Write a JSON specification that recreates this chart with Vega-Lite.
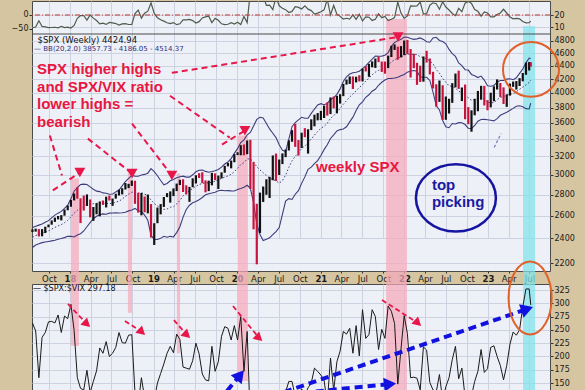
{
"$schema": "https://vega.github.io/schema/vega-lite/v6.json",
"background": "#d5c5a1",
"padding": {"left": 10, "top": 0, "right": 11, "bottom": 0},
"bounds": "flush",
"spacing": 13,
"config": {
  "view": {"fill": "#eef0f7", "stroke": "#4a4a4a", "strokeWidth": 1},
  "axis": {"labelFont": "DejaVu Sans", "labelFontSize": 8, "labelColor": "#1a1a1a", "gridColor": "#cdd2e1", "gridOpacity": 1, "tickColor": "#333333", "domain": false, "title": null, "labelFlush": false, "labelOverlap": false}
},
"datasets": {
"spx": [
{"d":"2017-07-21","o":2460,"h":2478,"l":2455,"c":2472,"v":9.4,"r":263,"bu":2495,"bm":2410,"bl":2325},
{"d":"2017-08-04","o":2472,"h":2484,"l":2458,"c":2476,"v":10.0,"r":248,"bu":2505,"bm":2425,"bl":2345},
{"d":"2017-08-18","o":2476,"h":2480,"l":2417,"c":2426,"v":15.2,"r":160,"bu":2515,"bm":2435,"bl":2355},
{"d":"2017-09-01","o":2426,"h":2480,"l":2418,"c":2477,"v":10.5,"r":236,"bu":2525,"bm":2445,"bl":2365},
{"d":"2017-09-15","o":2477,"h":2501,"l":2446,"c":2500,"v":10.2,"r":245,"bu":2540,"bm":2455,"bl":2370},
{"d":"2017-09-29","o":2500,"h":2520,"l":2496,"c":2519,"v":9.5,"r":265,"bu":2555,"bm":2465,"bl":2375},
{"d":"2017-10-13","o":2519,"h":2557,"l":2519,"c":2553,"v":9.6,"r":266,"bu":2580,"bm":2480,"bl":2380},
{"d":"2017-10-27","o":2553,"h":2582,"l":2544,"c":2581,"v":9.8,"r":263,"bu":2605,"bm":2495,"bl":2385},
{"d":"2017-11-10","o":2581,"h":2597,"l":2566,"c":2582,"v":9.3,"r":278,"bu":2623,"bm":2508,"bl":2393},
{"d":"2017-11-24","o":2582,"h":2605,"l":2557,"c":2602,"v":10.6,"r":245,"bu":2639,"bm":2519,"bl":2399},
{"d":"2017-12-08","o":2602,"h":2657,"l":2600,"c":2652,"v":9.6,"r":276,"bu":2667,"bm":2537,"bl":2407},
{"d":"2017-12-22","o":2652,"h":2694,"l":2650,"c":2683,"v":9.9,"r":271,"bu":2698,"bm":2558,"bl":2418},
{"d":"2018-01-05","o":2683,"h":2748,"l":2683,"c":2743,"v":9.2,"r":298,"bu":2759,"bm":2589,"bl":2419},
{"d":"2018-01-19","o":2743,"h":2810,"l":2743,"c":2810,"v":11.3,"r":249,"bu":2833,"bm":2623,"bl":2413},
{"d":"2018-02-02","o":2810,"h":2873,"l":2760,"c":2762,"v":17.3,"r":160,"bu":2869,"bm":2649,"bl":2429},
{"d":"2018-02-16","o":2762,"h":2763,"l":2533,"c":2732,"v":19.5,"r":140,"bu":2900,"bm":2670,"bl":2440},
{"d":"2018-03-02","o":2732,"h":2790,"l":2647,"c":2691,"v":19.6,"r":137,"bu":2904,"bm":2684,"bl":2464},
{"d":"2018-03-16","o":2691,"h":2801,"l":2690,"c":2752,"v":15.8,"r":174,"bu":2901,"bm":2701,"bl":2501},
{"d":"2018-03-30","o":2752,"h":2752,"l":2585,"c":2641,"v":20.0,"r":132,"bu":2877,"bm":2707,"bl":2537},
{"d":"2018-04-13","o":2641,"h":2680,"l":2553,"c":2656,"v":17.4,"r":153,"bu":2852,"bm":2712,"bl":2572},
{"d":"2018-04-27","o":2656,"h":2717,"l":2613,"c":2670,"v":15.4,"r":173,"bu":2834,"bm":2714,"bl":2594},
{"d":"2018-05-11","o":2670,"h":2733,"l":2594,"c":2728,"v":12.6,"r":216,"bu":2829,"bm":2719,"bl":2609},
{"d":"2018-05-25","o":2728,"h":2742,"l":2700,"c":2721,"v":13.2,"r":206,"bu":2816,"bm":2716,"bl":2616},
{"d":"2018-06-08","o":2721,"h":2779,"l":2676,"c":2779,"v":12.2,"r":228,"bu":2813,"bm":2713,"bl":2613},
{"d":"2018-06-22","o":2779,"h":2790,"l":2742,"c":2755,"v":13.8,"r":200,"bu":2803,"bm":2713,"bl":2623},
{"d":"2018-07-06","o":2755,"h":2761,"l":2691,"c":2760,"v":13.4,"r":206,"bu":2805,"bm":2715,"bl":2625},
{"d":"2018-07-20","o":2760,"h":2808,"l":2760,"c":2802,"v":12.9,"r":217,"bu":2826,"bm":2726,"bl":2626},
{"d":"2018-08-03","o":2802,"h":2848,"l":2791,"c":2840,"v":11.6,"r":245,"bu":2845,"bm":2735,"bl":2625},
{"d":"2018-08-17","o":2840,"h":2863,"l":2802,"c":2850,"v":12.6,"r":226,"bu":2886,"bm":2756,"bl":2626},
{"d":"2018-08-31","o":2850,"h":2916,"l":2850,"c":2902,"v":12.9,"r":225,"bu":2931,"bm":2781,"bl":2631},
{"d":"2018-09-14","o":2902,"h":2907,"l":2864,"c":2905,"v":12.1,"r":240,"bu":2964,"bm":2804,"bl":2644},
{"d":"2018-09-28","o":2905,"h":2941,"l":2886,"c":2914,"v":12.1,"r":241,"bu":2993,"bm":2823,"bl":2653},
{"d":"2018-10-12","o":2914,"h":2939,"l":2710,"c":2767,"v":21.3,"r":130,"bu":2987,"bm":2827,"bl":2667},
{"d":"2018-10-26","o":2767,"h":2816,"l":2628,"c":2658,"v":24.2,"r":110,"bu":2985,"bm":2815,"bl":2645},
{"d":"2018-11-09","o":2658,"h":2815,"l":2603,"c":2781,"v":17.4,"r":160,"bu":2998,"bm":2818,"bl":2638},
{"d":"2018-11-23","o":2781,"h":2781,"l":2631,"c":2633,"v":21.5,"r":122,"bu":3005,"bm":2805,"bl":2605},
{"d":"2018-12-07","o":2633,"h":2800,"l":2621,"c":2633,"v":23.2,"r":113,"bu":3018,"bm":2788,"bl":2558},
{"d":"2018-12-21","o":2633,"h":2708,"l":2408,"c":2417,"v":30.1,"r":80,"bu":3066,"bm":2746,"bl":2426},
{"d":"2019-01-04","o":2417,"h":2532,"l":2346,"c":2532,"v":21.4,"r":118,"bu":3034,"bm":2714,"bl":2394},
{"d":"2019-01-18","o":2532,"h":2675,"l":2532,"c":2671,"v":17.8,"r":150,"bu":2991,"bm":2691,"bl":2391},
{"d":"2019-02-01","o":2671,"h":2708,"l":2612,"c":2707,"v":16.1,"r":168,"bu":2941,"bm":2671,"bl":2401},
{"d":"2019-02-15","o":2707,"h":2776,"l":2681,"c":2776,"v":14.9,"r":186,"bu":2898,"bm":2658,"bl":2418},
{"d":"2019-03-01","o":2776,"h":2814,"l":2775,"c":2804,"v":13.6,"r":206,"bu":2911,"bm":2661,"bl":2411},
{"d":"2019-03-15","o":2804,"h":2831,"l":2722,"c":2822,"v":12.9,"r":219,"bu":2938,"bm":2678,"bl":2418},
{"d":"2019-03-29","o":2822,"h":2861,"l":2785,"c":2834,"v":13.7,"r":207,"bu":2953,"bm":2683,"bl":2413},
{"d":"2019-04-12","o":2834,"h":2910,"l":2834,"c":2907,"v":12.0,"r":242,"bu":2970,"bm":2710,"bl":2450},
{"d":"2019-04-26","o":2907,"h":2949,"l":2895,"c":2940,"v":12.7,"r":232,"bu":2981,"bm":2741,"bl":2501},
{"d":"2019-05-10","o":2940,"h":2954,"l":2825,"c":2881,"v":16.0,"r":180,"bu":2987,"bm":2787,"bl":2587},
{"d":"2019-05-24","o":2881,"h":2892,"l":2801,"c":2826,"v":15.9,"r":178,"bu":2977,"bm":2817,"bl":2657},
{"d":"2019-06-07","o":2826,"h":2876,"l":2729,"c":2873,"v":16.3,"r":176,"bu":2977,"bm":2837,"bl":2697},
{"d":"2019-06-21","o":2873,"h":2964,"l":2873,"c":2950,"v":15.4,"r":192,"bu":3001,"bm":2861,"bl":2721},
{"d":"2019-07-05","o":2950,"h":2996,"l":2911,"c":2990,"v":13.3,"r":225,"bu":3033,"bm":2883,"bl":2733},
{"d":"2019-07-19","o":2990,"h":3018,"l":2967,"c":2977,"v":14.5,"r":205,"bu":3050,"bm":2900,"bl":2750},
{"d":"2019-08-02","o":2977,"h":3028,"l":2914,"c":2932,"v":17.6,"r":167,"bu":3051,"bm":2911,"bl":2771},
{"d":"2019-08-16","o":2932,"h":2943,"l":2822,"c":2889,"v":18.5,"r":156,"bu":3037,"bm":2917,"bl":2797},
{"d":"2019-08-30","o":2889,"h":2940,"l":2834,"c":2926,"v":19.0,"r":154,"bu":3028,"bm":2918,"bl":2808},
{"d":"2019-09-13","o":2926,"h":3021,"l":2892,"c":3007,"v":13.7,"r":219,"bu":3035,"bm":2925,"bl":2815},
{"d":"2019-09-27","o":3007,"h":3016,"l":2945,"c":2962,"v":17.2,"r":172,"bu":3043,"bm":2933,"bl":2823},
{"d":"2019-10-11","o":2962,"h":2993,"l":2855,"c":2970,"v":15.6,"r":190,"bu":3058,"bm":2948,"bl":2838},
{"d":"2019-10-25","o":2970,"h":3027,"l":2963,"c":3023,"v":12.7,"r":238,"bu":3083,"bm":2963,"bl":2843},
{"d":"2019-11-08","o":3023,"h":3097,"l":3023,"c":3093,"v":12.1,"r":256,"bu":3117,"bm":2977,"bl":2837},
{"d":"2019-11-22","o":3093,"h":3128,"l":3091,"c":3110,"v":12.3,"r":253,"bu":3139,"bm":2989,"bl":2839},
{"d":"2019-12-06","o":3110,"h":3155,"l":3070,"c":3146,"v":13.6,"r":231,"bu":3176,"bm":3006,"bl":2836},
{"d":"2019-12-20","o":3146,"h":3226,"l":3136,"c":3221,"v":12.5,"r":258,"bu":3235,"bm":3035,"bl":2835},
{"d":"2020-01-03","o":3221,"h":3248,"l":3216,"c":3235,"v":14.0,"r":231,"bu":3289,"bm":3069,"bl":2849},
{"d":"2020-01-17","o":3235,"h":3330,"l":3214,"c":3330,"v":12.1,"r":275,"bu":3360,"bm":3110,"bl":2860},
{"d":"2020-01-31","o":3330,"h":3338,"l":3214,"c":3226,"v":18.8,"r":172,"bu":3392,"bm":3132,"bl":2872},
{"d":"2020-02-14","o":3226,"h":3385,"l":3226,"c":3380,"v":13.7,"r":247,"bu":3453,"bm":3173,"bl":2893},
{"d":"2020-02-28","o":3380,"h":3393,"l":2855,"c":2954,"v":40.1,"r":74,"bu":3482,"bm":3172,"bl":2862},
{"d":"2020-03-13","o":2954,"h":3137,"l":2478,"c":2711,"v":57.8,"r":47,"bu":3561,"bm":3141,"bl":2721},
{"d":"2020-03-27","o":2711,"h":2711,"l":2192,"c":2541,"v":65.5,"r":39,"bu":3645,"bm":3085,"bl":2525},
{"d":"2020-04-10","o":2541,"h":2819,"l":2447,"c":2790,"v":41.7,"r":67,"bu":3673,"bm":3053,"bl":2433},
{"d":"2020-04-24","o":2790,"h":2880,"l":2728,"c":2837,"v":35.9,"r":79,"bu":3663,"bm":3023,"bl":2383},
{"d":"2020-05-08","o":2837,"h":2954,"l":2798,"c":2930,"v":28.0,"r":105,"bu":3593,"bm":2993,"bl":2393},
{"d":"2020-05-22","o":2930,"h":2980,"l":2766,"c":2955,"v":28.2,"r":105,"bu":3525,"bm":2965,"bl":2405},
{"d":"2020-06-05","o":2955,"h":3212,"l":2944,"c":3194,"v":24.5,"r":130,"bu":3472,"bm":2952,"bl":2432},
{"d":"2020-06-19","o":3194,"h":3233,"l":2936,"c":3098,"v":35.1,"r":88,"bu":3419,"bm":2939,"bl":2459},
{"d":"2020-07-03","o":3098,"h":3166,"l":2999,"c":3130,"v":27.7,"r":113,"bu":3334,"bm":2914,"bl":2494},
{"d":"2020-07-17","o":3130,"h":3235,"l":3116,"c":3225,"v":25.7,"r":125,"bu":3271,"bm":2941,"bl":2611},
{"d":"2020-07-31","o":3225,"h":3280,"l":3193,"c":3271,"v":24.5,"r":133,"bu":3257,"bm":2997,"bl":2737},
{"d":"2020-08-14","o":3271,"h":3387,"l":3268,"c":3373,"v":22.1,"r":153,"bu":3400,"bm":3080,"bl":2760},
{"d":"2020-08-28","o":3373,"h":3510,"l":3370,"c":3508,"v":23.0,"r":153,"bu":3552,"bm":3152,"bl":2752},
{"d":"2020-09-11","o":3508,"h":3588,"l":3310,"c":3341,"v":26.9,"r":124,"bu":3603,"bm":3203,"bl":2803},
{"d":"2020-09-25","o":3341,"h":3390,"l":3210,"c":3298,"v":26.4,"r":125,"bu":3639,"bm":3239,"bl":2839},
{"d":"2020-10-09","o":3298,"h":3479,"l":3298,"c":3477,"v":25.0,"r":139,"bu":3672,"bm":3292,"bl":2912},
{"d":"2020-10-23","o":3477,"h":3535,"l":3424,"c":3465,"v":27.6,"r":126,"bu":3659,"bm":3319,"bl":2979},
{"d":"2020-11-06","o":3465,"h":3521,"l":3233,"c":3510,"v":24.9,"r":141,"bu":3660,"bm":3360,"bl":3060},
{"d":"2020-11-20","o":3510,"h":3646,"l":3511,"c":3558,"v":23.7,"r":150,"bu":3723,"bm":3403,"bl":3083},
{"d":"2020-12-04","o":3558,"h":3706,"l":3558,"c":3699,"v":20.8,"r":178,"bu":3780,"bm":3450,"bl":3120},
{"d":"2020-12-18","o":3699,"h":3727,"l":3633,"c":3709,"v":21.6,"r":172,"bu":3834,"bm":3494,"bl":3154},
{"d":"2021-01-01","o":3709,"h":3756,"l":3636,"c":3756,"v":22.8,"r":165,"bu":3852,"bm":3532,"bl":3212},
{"d":"2021-01-15","o":3756,"h":3826,"l":3663,"c":3768,"v":24.3,"r":155,"bu":3838,"bm":3558,"bl":3278},
{"d":"2021-01-29","o":3768,"h":3870,"l":3694,"c":3714,"v":33.1,"r":112,"bu":3855,"bm":3595,"bl":3335},
{"d":"2021-02-12","o":3714,"h":3937,"l":3714,"c":3934,"v":20.0,"r":197,"bu":3909,"bm":3659,"bl":3409},
{"d":"2021-02-26","o":3934,"h":3950,"l":3789,"c":3811,"v":28.0,"r":136,"bu":3932,"bm":3692,"bl":3452},
{"d":"2021-03-12","o":3811,"h":3960,"l":3723,"c":3943,"v":20.7,"r":190,"bu":3980,"bm":3740,"bl":3500},
{"d":"2021-03-26","o":3943,"h":3982,"l":3853,"c":3975,"v":18.9,"r":210,"bu":4057,"bm":3787,"bl":3517},
{"d":"2021-04-09","o":3975,"h":4129,"l":3955,"c":4129,"v":16.7,"r":247,"bu":4164,"bm":3844,"bl":3524},
{"d":"2021-04-23","o":4129,"h":4191,"l":4118,"c":4180,"v":17.3,"r":242,"bu":4232,"bm":3892,"bl":3552},
{"d":"2021-05-07","o":4180,"h":4238,"l":4128,"c":4232,"v":16.7,"r":253,"bu":4274,"bm":3944,"bl":3614},
{"d":"2021-05-21","o":4232,"h":4238,"l":4056,"c":4156,"v":20.2,"r":206,"bu":4294,"bm":3984,"bl":3674},
{"d":"2021-06-04","o":4156,"h":4234,"l":4150,"c":4230,"v":16.4,"r":258,"bu":4300,"bm":4030,"bl":3760},
{"d":"2021-06-18","o":4230,"h":4256,"l":4165,"c":4166,"v":20.7,"r":201,"bu":4316,"bm":4076,"bl":3836},
{"d":"2021-07-02","o":4166,"h":4356,"l":4165,"c":4352,"v":15.1,"r":288,"bu":4357,"bm":4117,"bl":3877},
{"d":"2021-07-16","o":4352,"h":4393,"l":4313,"c":4327,"v":18.5,"r":234,"bu":4399,"bm":4169,"bl":3939},
{"d":"2021-07-30","o":4327,"h":4430,"l":4233,"c":4395,"v":18.2,"r":241,"bu":4454,"bm":4214,"bl":3974},
{"d":"2021-08-13","o":4395,"h":4469,"l":4376,"c":4468,"v":15.5,"r":288,"bu":4504,"bm":4264,"bl":4024},
{"d":"2021-08-27","o":4468,"h":4513,"l":4367,"c":4509,"v":16.4,"r":275,"bu":4552,"bm":4302,"bl":4052},
{"d":"2021-09-10","o":4509,"h":4546,"l":4456,"c":4459,"v":21.0,"r":213,"bu":4549,"bm":4329,"bl":4109},
{"d":"2021-09-24","o":4459,"h":4466,"l":4306,"c":4455,"v":17.8,"r":251,"bu":4552,"bm":4352,"bl":4152},
{"d":"2021-10-08","o":4455,"h":4466,"l":4279,"c":4391,"v":18.8,"r":234,"bu":4565,"bm":4375,"bl":4185},
{"d":"2021-10-22","o":4391,"h":4559,"l":4364,"c":4545,"v":15.4,"r":295,"bu":4607,"bm":4407,"bl":4207},
{"d":"2021-11-05","o":4545,"h":4718,"l":4537,"c":4698,"v":16.5,"r":285,"bu":4710,"bm":4460,"bl":4210},
{"d":"2021-11-19","o":4698,"h":4743,"l":4651,"c":4698,"v":17.9,"r":262,"bu":4775,"bm":4495,"bl":4215},
{"d":"2021-12-03","o":4698,"h":4705,"l":4495,"c":4538,"v":30.7,"r":148,"bu":4806,"bm":4516,"bl":4226},
{"d":"2021-12-17","o":4538,"h":4714,"l":4531,"c":4620,"v":21.6,"r":214,"bu":4828,"bm":4538,"bl":4248},
{"d":"2021-12-31","o":4620,"h":4808,"l":4568,"c":4766,"v":17.2,"r":277,"bu":4868,"bm":4568,"bl":4268},
{"d":"2022-01-14","o":4766,"h":4818,"l":4582,"c":4663,"v":19.2,"r":243,"bu":4863,"bm":4583,"bl":4303},
{"d":"2022-01-28","o":4663,"h":4667,"l":4222,"c":4432,"v":27.7,"r":160,"bu":4841,"bm":4581,"bl":4321},
{"d":"2022-02-11","o":4432,"h":4590,"l":4363,"c":4419,"v":27.4,"r":161,"bu":4827,"bm":4577,"bl":4327},
{"d":"2022-02-25","o":4419,"h":4446,"l":4115,"c":4385,"v":27.6,"r":159,"bu":4836,"bm":4576,"bl":4316},
{"d":"2022-03-11","o":4385,"h":4402,"l":4157,"c":4204,"v":30.8,"r":137,"bu":4852,"bm":4542,"bl":4232},
{"d":"2022-03-25","o":4204,"h":4546,"l":4161,"c":4543,"v":20.8,"r":218,"bu":4827,"bm":4527,"bl":4227},
{"d":"2022-04-08","o":4543,"h":4637,"l":4450,"c":4488,"v":21.2,"r":212,"bu":4786,"bm":4506,"bl":4226},
{"d":"2022-04-22","o":4488,"h":4513,"l":4268,"c":4272,"v":28.2,"r":151,"bu":4779,"bm":4479,"bl":4179},
{"d":"2022-05-06","o":4272,"h":4308,"l":4063,"c":4123,"v":30.2,"r":137,"bu":4850,"bm":4430,"bl":4010},
{"d":"2022-05-20","o":4123,"h":4123,"l":3811,"c":3901,"v":29.4,"r":133,"bu":4863,"bm":4343,"bl":3823},
{"d":"2022-06-03","o":3901,"h":4178,"l":3876,"c":4109,"v":24.8,"r":166,"bu":4808,"bm":4288,"bl":3768},
{"d":"2022-06-17","o":4109,"h":4109,"l":3637,"c":3675,"v":31.1,"r":118,"bu":4792,"bm":4212,"bl":3632},
{"d":"2022-07-01","o":3675,"h":3950,"l":3640,"c":3825,"v":26.7,"r":143,"bu":4753,"bm":4153,"bl":3553},
{"d":"2022-07-15","o":3825,"h":3919,"l":3721,"c":3863,"v":24.2,"r":160,"bu":4660,"bm":4100,"bl":3540},
{"d":"2022-07-29","o":3863,"h":4140,"l":3863,"c":4130,"v":21.3,"r":194,"bu":4593,"bm":4093,"bl":3593},
{"d":"2022-08-12","o":4130,"h":4281,"l":4079,"c":4280,"v":19.5,"r":219,"bu":4547,"bm":4067,"bl":3587},
{"d":"2022-08-26","o":4280,"h":4325,"l":4057,"c":4058,"v":25.6,"r":158,"bu":4444,"bm":4024,"bl":3604},
{"d":"2022-09-09","o":4058,"h":4077,"l":3887,"c":4067,"v":22.8,"r":178,"bu":4403,"bm":4003,"bl":3603},
{"d":"2022-09-23","o":4067,"h":4119,"l":3647,"c":3693,"v":29.9,"r":124,"bu":4340,"bm":3960,"bl":3580},
{"d":"2022-10-07","o":3693,"h":3806,"l":3584,"c":3640,"v":31.4,"r":116,"bu":4334,"bm":3934,"bl":3534},
{"d":"2022-10-21","o":3640,"h":3763,"l":3491,"c":3753,"v":29.7,"r":126,"bu":4268,"bm":3898,"bl":3528},
{"d":"2022-11-04","o":3753,"h":3919,"l":3698,"c":3771,"v":24.6,"r":153,"bu":4248,"bm":3908,"bl":3568},
{"d":"2022-11-18","o":3771,"h":4028,"l":3751,"c":3965,"v":23.1,"r":172,"bu":4222,"bm":3922,"bl":3622},
{"d":"2022-12-02","o":3965,"h":4101,"l":3906,"c":4072,"v":19.1,"r":213,"bu":4243,"bm":3943,"bl":3643},
{"d":"2022-12-16","o":4072,"h":4100,"l":3828,"c":3852,"v":22.6,"r":170,"bu":4185,"bm":3915,"bl":3645},
{"d":"2022-12-30","o":3852,"h":3900,"l":3764,"c":3840,"v":21.7,"r":177,"bu":4101,"bm":3871,"bl":3641},
{"d":"2023-01-13","o":3840,"h":4003,"l":3802,"c":3999,"v":18.4,"r":217,"bu":4095,"bm":3865,"bl":3635},
{"d":"2023-01-27","o":3999,"h":4094,"l":3885,"c":4071,"v":18.5,"r":220,"bu":4106,"bm":3866,"bl":3626},
{"d":"2023-02-10","o":4071,"h":4195,"l":4048,"c":4090,"v":20.5,"r":200,"bu":4155,"bm":3905,"bl":3655},
{"d":"2023-02-24","o":4090,"h":4141,"l":3944,"c":3970,"v":21.7,"r":183,"bu":4178,"bm":3938,"bl":3698},
{"d":"2023-03-10","o":3970,"h":4079,"l":3847,"c":3862,"v":24.8,"r":156,"bu":4179,"bm":3949,"bl":3719},
{"d":"2023-03-24","o":3862,"h":3980,"l":3809,"c":3971,"v":21.7,"r":183,"bu":4199,"bm":3969,"bl":3739},
{"d":"2023-04-07","o":3971,"h":4133,"l":3962,"c":4105,"v":18.4,"r":223,"bu":4203,"bm":3983,"bl":3763},
{"d":"2023-04-21","o":4105,"h":4163,"l":4086,"c":4133,"v":16.8,"r":246,"bu":4189,"bm":3989,"bl":3789},
{"d":"2023-05-05","o":4133,"h":4170,"l":4048,"c":4136,"v":17.2,"r":240,"bu":4218,"bm":4018,"bl":3818},
{"d":"2023-05-19","o":4136,"h":4213,"l":4098,"c":4192,"v":16.8,"r":250,"bu":4283,"bm":4053,"bl":3823},
{"d":"2023-06-02","o":4192,"h":4290,"l":4166,"c":4282,"v":14.6,"r":293,"bu":4351,"bm":4081,"bl":3811},
{"d":"2023-06-16","o":4282,"h":4448,"l":4263,"c":4410,"v":13.5,"r":327,"bu":4445,"bm":4115,"bl":3785},
{"d":"2023-06-30","o":4410,"h":4458,"l":4328,"c":4450,"v":13.6,"r":327,"bu":4521,"bm":4151,"bl":3781},
{"d":"2023-07-07","o":4450,"h":4456,"l":4385,"c":4425,"v":14.9,"r":297,"bu":4514,"bm":4186,"bl":3858}
],
"bands": [
{"d1":"2018-01-05","d2":"2018-02-09","mt":2963,"mb":2046,"bt":336.3,"bb":220,"k":"p"},
{"d1":"2018-09-11","d2":"2018-09-29","mt":3025,"mb":2046,"bt":336.3,"bb":282,"k":"p"},
{"d1":"2019-04-13","d2":"2019-04-27","mt":3015,"mb":2046,"bt":336.3,"bb":206,"k":"p"},
{"d1":"2020-01-04","d2":"2020-02-17","mt":3444,"mb":2046,"bt":336.3,"bb":154,"k":"p"},
{"d1":"2021-10-13","d2":"2022-01-12","mt":4919,"mb":2046,"bt":336.3,"bb":135,"tt":16.7,"tb":4.2,"k":"p"},
{"d1":"2023-06-03","d2":"2023-07-26","mt":4919,"mb":2046,"bt":336.3,"bb":135,"tt":10.8,"tb":4.2,"k":"c"}
],
"mainArrows": [
{"d1":"2017-10-05","v1":3444,"d2":"2017-11-27","v2":2994},
{"d1":"2017-10-18","v1":2841,"d2":"2018-02-13","v2":3025},
{"d1":"2018-03-20","v1":3407,"d2":"2018-09-29","v2":3015},
{"d1":"2018-09-29","v1":3591,"d2":"2019-03-22","v2":2994},
{"d1":"2019-03-14","v1":3960,"d2":"2019-11-30","v2":3419},
{"d1":"2019-10-27","v1":3337,"d2":"2020-02-04","v2":3504},
{"d1":"2019-03-22","v1":4292,"d2":"2021-12-04","v2":4868}
],
"mainHeads": [
{"d":"2018-02-13","v":3025},
{"d":"2018-09-29","v":3015},
{"d":"2019-03-22","v":2994},
{"d":"2020-02-04","v":3504},
{"d":"2021-12-04","v":4868}
],
"redArrows": [
{"d1":"2017-12-23","v1":298.7,"d2":"2018-03-16","v2":261},
{"d1":"2018-08-29","v1":266.7,"d2":"2018-11-11","v2":246},
{"d1":"2019-03-31","v1":268.5,"d2":"2019-05-27","v2":240.3},
{"d1":"2019-12-14","v1":294.9,"d2":"2020-04-06","v2":234.7},
{"d1":"2021-09-25","v1":306.2,"d2":"2022-03-01","v2":262.9}
],
"blueArrows": [
{"id":"b1","d1":"2019-11-18","v1":135,"d2":"2020-01-14","v2":165},
{"id":"b2","d1":"2020-07-24","v1":133,"d2":"2023-06-21","v2":289.2},
{"id":"b3","d1":"2020-08-19","v1":129.3,"d2":"2021-10-30","v2":148.1}
],
"levels": [
{"z":0,"top":4919}
]
},
"vconcat": [
{
"width": 518, "height": 270,
"layer": [
{"data": {"name": "bands"},
 "mark": {"type": "rect", "opacity": 0.72},
 "encoding": {
  "x": {"field": "d1", "type": "temporal", "scale": {"domain": ["2017-07-19", "2023-09-29"]},
        "axis": {"orient": "bottom", "grid": true, "domain": false, "tickSize": 2, "labelPadding": 1, "labelFontSize": 8.5, "tickCount": {"interval": "month", "step": 3},
                 "labelExpr": "month(datum.value) == 0 ? timeFormat(datum.value, '%y') : timeFormat(datum.value, '%b')",
                 "labelFontWeight": {"condition": {"test": "month(datum.value) == 0", "value": "bold"}, "value": "normal"}}},
  "x2": {"field": "d2"},
  "y": {"field": "mt", "type": "quantitative", "scale": {"type": "log", "domain": [2141, 4919], "range": [270, 33], "nice": false}, "axis": {"orient": "right", "values": [2200,2400,2600,2800,3000,3200,3400,3600,3800,4000,4200,4400,4600,4800], "format": "d", "grid": true, "tickSize": 3, "labelPadding": 1}},
  "y2": {"field": "mb"},
  "color": {"field": "k", "type": "nominal", "scale": {"domain": ["p", "c"], "range": ["#f5a9bb", "#7fe3ec"]}, "legend": null}
 }},
{"data": {"name": "bands"}, "transform": [{"filter": "isValid(datum.tt)"}],
 "mark": {"type": "rect", "opacity": 0.72},
 "encoding": {
  "x": {"field": "d1", "type": "temporal", "scale": {"domain": ["2017-07-19", "2023-09-29"]}, "axis": null},
  "x2": {"field": "d2"},
  "y": {"field": "tt", "type": "quantitative", "scale": {"domain": [4.2, 31.7], "range": [33, 0], "nice": false, "zero": false}, "axis": {"orient": "right", "values": [10, 20], "grid": true, "tickSize": 3, "labelPadding": 1}},
  "y2": {"field": "tb"},
  "color": {"field": "k", "type": "nominal", "scale": {"domain": ["p", "c"], "range": ["#f5a9bb", "#7fe3ec"]}, "legend": null}
 }},
{"data": {"name": "spx"},
 "mark": {"type": "line", "color": "#4e5c4e", "strokeWidth": 1.2, "clip": true},
 "encoding": {
  "x": {"field": "d", "type": "temporal", "scale": {"domain": ["2017-07-19", "2023-09-29"]}, "axis": null},
  "y": {"field": "v", "type": "quantitative", "scale": {"domain": [4.2, 31.7], "range": [33, 0], "nice": false, "zero": false}, "axis": null}
 }},
{"data": {"name": "levels"},
 "mark": {"type": "rule", "color": "#c0392b", "strokeDash": [5, 2, 1, 2], "strokeWidth": 1},
 "encoding": {
  "y": {"field": "z", "type": "quantitative", "scale": {"domain": [-68, 50], "range": [33, 0], "nice": false, "zero": false}, "axis": {"orient": "left", "values": [-50, 0], "grid": false, "tickSize": 3, "labelPadding": 1}}
 }},
{"data": {"name": "levels"},
 "mark": {"type": "rule", "color": "#4a4a4a", "strokeWidth": 1.2},
 "encoding": {
  "y": {"field": "top", "type": "quantitative", "scale": {"type": "log", "domain": [2141, 4919], "range": [270, 33], "nice": false}, "axis": null}
 }},
{"data": {"name": "spx"},
 "mark": {"type": "line", "color": "#3d3d7d", "strokeWidth": 1.1},
 "encoding": {
  "x": {"field": "d", "type": "temporal", "scale": {"domain": ["2017-07-19", "2023-09-29"]}, "axis": null},
  "y": {"field": "bu", "type": "quantitative", "scale": {"type": "log", "domain": [2141, 4919], "range": [270, 33], "nice": false}, "axis": null}
 }},
{"data": {"name": "spx"},
 "mark": {"type": "line", "color": "#3d3d7d", "strokeWidth": 1.1},
 "encoding": {
  "x": {"field": "d", "type": "temporal", "scale": {"domain": ["2017-07-19", "2023-09-29"]}, "axis": null},
  "y": {"field": "bl", "type": "quantitative", "scale": {"type": "log", "domain": [2141, 4919], "range": [270, 33], "nice": false}, "axis": null}
 }},
{"data": {"name": "spx"},
 "mark": {"type": "line", "color": "#3d3d7d", "strokeWidth": 1, "strokeDash": [1.5, 2]},
 "encoding": {
  "x": {"field": "d", "type": "temporal", "scale": {"domain": ["2017-07-19", "2023-09-29"]}, "axis": null},
  "y": {"field": "bm", "type": "quantitative", "scale": {"type": "log", "domain": [2141, 4919], "range": [270, 33], "nice": false}, "axis": null}
 }},
{"data": {"name": "spx"},
 "mark": {"type": "rule", "strokeWidth": 2.2},
 "encoding": {
  "x": {"field": "d", "type": "temporal", "scale": {"domain": ["2017-07-19", "2023-09-29"]}, "axis": null},
  "y": {"field": "l", "type": "quantitative", "scale": {"type": "log", "domain": [2141, 4919], "range": [270, 33], "nice": false}, "axis": null},
  "y2": {"field": "h"},
  "color": {"condition": {"test": "datum.c >= datum.o", "value": "#111111"}, "value": "#c8143c"}
 }},
{"data": {"values": [{"d1":"2023-01-28","v1":3302,"d2":"2023-02-27","v2":3468}]},
 "mark": {"type": "rule", "color": "#7a7ac8", "strokeWidth": 1.2, "strokeDash": [3, 2]},
 "encoding": {
  "x": {"field": "d1", "type": "temporal", "scale": {"domain": ["2017-07-19", "2023-09-29"]}, "axis": null},
  "x2": {"field": "d2"},
  "y": {"field": "v1", "type": "quantitative", "scale": {"type": "log", "domain": [2141, 4919], "range": [270, 33], "nice": false}, "axis": null},
  "y2": {"field": "v2"}
 }},
{"data": {"name": "mainArrows"},
 "mark": {"type": "rule", "color": "#e8174a", "strokeWidth": 2, "strokeDash": [6, 4]},
 "encoding": {
  "x": {"field": "d1", "type": "temporal", "scale": {"domain": ["2017-07-19", "2023-09-29"]}, "axis": null},
  "x2": {"field": "d2"},
  "y": {"field": "v1", "type": "quantitative", "scale": {"type": "log", "domain": [2141, 4919], "range": [270, 33], "nice": false}, "axis": null},
  "y2": {"field": "v2"}
 }},
{"data": {"name": "mainHeads"},
 "mark": {"type": "point", "shape": "triangle-down", "filled": true, "size": 120, "color": "#e8174a", "opacity": 1},
 "encoding": {
  "x": {"field": "d", "type": "temporal", "scale": {"domain": ["2017-07-19", "2023-09-29"]}, "axis": null},
  "y": {"field": "v", "type": "quantitative", "scale": {"type": "log", "domain": [2141, 4919], "range": [270, 33], "nice": false}, "axis": null}
 }},
{"data": {"values": [
  {"d":"2017-08-10","v":4352,"t":"SPX higher highs"},
  {"d":"2017-08-10","v":4087,"t":"and SPX/VIX ratio"},
  {"d":"2017-08-10","v":3851,"t":"lower highs ="},
  {"d":"2017-08-10","v":3616,"t":"bearish"},
  {"d":"2020-12-11","v":3079,"t":"weekly SPX"}]},
 "mark": {"type": "text", "align": "left", "baseline": "middle", "font": "Liberation Sans", "fontWeight": "bold", "fontSize": 15, "color": "#e8173f"},
 "encoding": {
  "x": {"field": "d", "type": "temporal", "scale": {"domain": ["2017-07-19", "2023-09-29"]}, "axis": null},
  "y": {"field": "v", "type": "quantitative", "scale": {"type": "log", "domain": [2141, 4919], "range": [270, 33], "nice": false}, "axis": null},
  "text": {"field": "t"}
 }},
{"data": {"values": [
  {"d":"2022-05-01","v":2891,"t":"top"},
  {"d":"2022-05-01","v":2725,"t":"picking"}]},
 "mark": {"type": "text", "align": "left", "baseline": "middle", "font": "Liberation Sans", "fontWeight": "bold", "fontSize": 15, "color": "#1a1aa0"},
 "encoding": {
  "x": {"field": "d", "type": "temporal", "scale": {"domain": ["2017-07-19", "2023-09-29"]}, "axis": null},
  "y": {"field": "v", "type": "quantitative", "scale": {"type": "log", "domain": [2141, 4919], "range": [270, 33], "nice": false}, "axis": null},
  "text": {"field": "t"}
 }},
{"data": {"values": [{"d":"2017-08-12","v":4817,"t":"$SPX (Weekly) 4424.94"}]},
 "mark": {"type": "text", "align": "left", "baseline": "middle", "font": "DejaVu Sans", "fontSize": 8.5, "color": "#111111"},
 "encoding": {
  "x": {"field": "d", "type": "temporal", "scale": {"domain": ["2017-07-19", "2023-09-29"]}, "axis": null},
  "y": {"field": "v", "type": "quantitative", "scale": {"type": "log", "domain": [2141, 4919], "range": [270, 33], "nice": false}, "axis": null},
  "text": {"field": "t"}
 }},
{"data": {"values": [{"d":"2017-07-28","v":4668,"t":"— BB(20,2.0) 3857.73 - 4186.05 - 4514.37"}]},
 "mark": {"type": "text", "align": "left", "baseline": "middle", "font": "DejaVu Sans", "fontSize": 7, "color": "#2e2e78"},
 "encoding": {
  "x": {"field": "d", "type": "temporal", "scale": {"domain": ["2017-07-19", "2023-09-29"]}, "axis": null},
  "y": {"field": "v", "type": "quantitative", "scale": {"type": "log", "domain": [2141, 4919], "range": [270, 33], "nice": false}, "axis": null},
  "text": {"field": "t"}
 }},
{"data": {"values": [{"d":"2022-08-14","v":2767}]},
 "mark": {"type": "point", "shape": "M-1,0A1,0.84,0,1,1,1,0A1,0.84,0,1,1,-1,0Z", "size": 6400, "filled": false, "stroke": "#1515a0", "strokeWidth": 2.5, "opacity": 1},
 "encoding": {
  "x": {"field": "d", "type": "temporal", "scale": {"domain": ["2017-07-19", "2023-09-29"]}, "axis": null},
  "y": {"field": "v", "type": "quantitative", "scale": {"type": "log", "domain": [2141, 4919], "range": [270, 33], "nice": false}, "axis": null}
 }},
{"data": {"values": [{"d":"2023-07-08","v":4344}]},
 "mark": {"type": "point", "shape": "M-1,0A1,0.98,0,1,1,1,0A1,0.98,0,1,1,-1,0Z", "size": 3136, "filled": false, "stroke": "#e0602a", "strokeWidth": 2, "opacity": 1},
 "encoding": {
  "x": {"field": "d", "type": "temporal", "scale": {"domain": ["2017-07-19", "2023-09-29"]}, "axis": null},
  "y": {"field": "v", "type": "quantitative", "scale": {"type": "log", "domain": [2141, 4919], "range": [270, 33], "nice": false}, "axis": null}
 }}
],
"resolve": {"scale": {"x": "independent", "y": "independent"}, "axis": {"x": "independent", "y": "independent"}}
},
{
"width": 518, "height": 107,
"layer": [
{"data": {"name": "bands"},
 "mark": {"type": "rect", "opacity": 0.72},
 "encoding": {
  "x": {"field": "d1", "type": "temporal", "scale": {"domain": ["2017-07-19", "2023-09-29"]}, "axis": {"orient": "bottom", "grid": true, "labels": false, "ticks": false, "domain": false, "tickCount": {"interval": "month", "step": 3}}},
  "x2": {"field": "d2"},
  "y": {"field": "bt", "type": "quantitative", "scale": {"domain": [135, 336.3], "nice": false, "zero": false}, "axis": {"orient": "right", "values": [150,175,200,225,250,275,300,325], "grid": true, "tickSize": 3, "labelPadding": 1}},
  "y2": {"field": "bb"},
  "color": {"field": "k", "type": "nominal", "scale": {"domain": ["p", "c"], "range": ["#f5a9bb", "#7fe3ec"]}, "legend": null}
 }},
{"data": {"name": "spx"},
 "mark": {"type": "line", "color": "#1a1a1a", "strokeWidth": 1, "clip": true},
 "encoding": {
  "x": {"field": "d", "type": "temporal", "scale": {"domain": ["2017-07-19", "2023-09-29"]}, "axis": null},
  "y": {"field": "r", "type": "quantitative", "scale": {"domain": [135, 336.3], "nice": false, "zero": false}, "axis": null}
 }},
{"data": {"name": "redArrows"},
 "mark": {"type": "rule", "color": "#e8174a", "strokeWidth": 1.8, "strokeDash": [5, 3]},
 "encoding": {
  "x": {"field": "d1", "type": "temporal", "scale": {"domain": ["2017-07-19", "2023-09-29"]}, "axis": null},
  "x2": {"field": "d2"},
  "y": {"field": "v1", "type": "quantitative", "scale": {"domain": [135, 336.3], "nice": false, "zero": false}, "axis": null},
  "y2": {"field": "v2"}
 }},
{"data": {"name": "redArrows"},
 "mark": {"type": "point", "shape": "triangle-up", "angle": 132, "filled": true, "size": 100, "color": "#e8174a", "opacity": 1},
 "encoding": {
  "x": {"field": "d2", "type": "temporal", "scale": {"domain": ["2017-07-19", "2023-09-29"]}, "axis": null},
  "y": {"field": "v2", "type": "quantitative", "scale": {"domain": [135, 336.3], "nice": false, "zero": false}, "axis": null}
 }},
{"data": {"name": "blueArrows"},
 "mark": {"type": "rule", "color": "#1212e0", "strokeWidth": 4, "strokeDash": [8, 5]},
 "encoding": {
  "x": {"field": "d1", "type": "temporal", "scale": {"domain": ["2017-07-19", "2023-09-29"]}, "axis": null},
  "x2": {"field": "d2"},
  "y": {"field": "v1", "type": "quantitative", "scale": {"domain": [135, 336.3], "nice": false, "zero": false}, "axis": null},
  "y2": {"field": "v2"}
 }},
{"data": {"name": "blueArrows"}, "transform": [{"filter": "datum.id == 'b1'"}],
 "mark": {"type": "point", "shape": "triangle-up", "angle": 39, "filled": true, "size": 200, "color": "#1212e0", "opacity": 1},
 "encoding": {
  "x": {"field": "d2", "type": "temporal", "scale": {"domain": ["2017-07-19", "2023-09-29"]}, "axis": null},
  "y": {"field": "v2", "type": "quantitative", "scale": {"domain": [135, 336.3], "nice": false, "zero": false}, "axis": null}
 }},
{"data": {"name": "blueArrows"}, "transform": [{"filter": "datum.id == 'b2'"}],
 "mark": {"type": "point", "shape": "triangle-up", "angle": 71, "filled": true, "size": 200, "color": "#1212e0", "opacity": 1},
 "encoding": {
  "x": {"field": "d2", "type": "temporal", "scale": {"domain": ["2017-07-19", "2023-09-29"]}, "axis": null},
  "y": {"field": "v2", "type": "quantitative", "scale": {"domain": [135, 336.3], "nice": false, "zero": false}, "axis": null}
 }},
{"data": {"name": "blueArrows"}, "transform": [{"filter": "datum.id == 'b3'"}],
 "mark": {"type": "point", "shape": "triangle-up", "angle": 84, "filled": true, "size": 200, "color": "#1212e0", "opacity": 1},
 "encoding": {
  "x": {"field": "d2", "type": "temporal", "scale": {"domain": ["2017-07-19", "2023-09-29"]}, "axis": null},
  "y": {"field": "v2", "type": "quantitative", "scale": {"domain": [135, 336.3], "nice": false, "zero": false}, "axis": null}
 }},
{"data": {"values": [{"d":"2017-07-23","v":326.9,"t":"— $SPX:$VIX 297.18"}]},
 "mark": {"type": "text", "align": "left", "baseline": "middle", "font": "DejaVu Sans", "fontSize": 8, "color": "#111111"},
 "encoding": {
  "x": {"field": "d", "type": "temporal", "scale": {"domain": ["2017-07-19", "2023-09-29"]}, "axis": null},
  "y": {"field": "v", "type": "quantitative", "scale": {"domain": [135, 336.3], "nice": false, "zero": false}, "axis": null},
  "text": {"field": "t"}
 }},
{"data": {"values": [{"d":"2023-07-04","v":310}]},
 "mark": {"type": "point", "shape": "M-0.59,0A0.59,1,0,1,1,0.59,0A0.59,1,0,1,1,-0.59,0Z", "size": 5329, "filled": false, "stroke": "#e0602a", "strokeWidth": 2, "opacity": 1},
 "encoding": {
  "x": {"field": "d", "type": "temporal", "scale": {"domain": ["2017-07-19", "2023-09-29"]}, "axis": null},
  "y": {"field": "v", "type": "quantitative", "scale": {"domain": [135, 336.3], "nice": false, "zero": false}, "axis": null}
 }}
],
"resolve": {"scale": {"x": "independent", "y": "independent"}, "axis": {"x": "independent", "y": "independent"}}
}
]
}
